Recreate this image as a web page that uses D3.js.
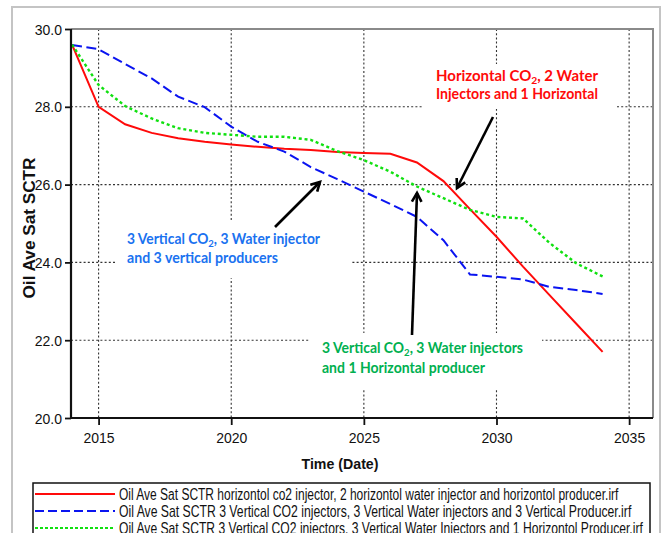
<!DOCTYPE html>
<html><head><meta charset="utf-8">
<script src="https://cdn.jsdelivr.net/npm/d3@7"></script>
<style>body{margin:0;background:#fff}svg{display:block}</style>
</head><body>
<svg id="c" width="664" height="533"></svg>
<script>
const years = d3.range(2014, 2035);
const redVals   = [29.6,28.0,27.55,27.33,27.19,27.1,27.03,26.97,26.92,26.89,26.84,26.81,26.79,26.57,26.09,25.37,24.66,23.89,23.16,22.43,21.7];
const blueVals  = [29.59,29.48,29.1,28.73,28.26,27.99,27.49,27.1,26.85,26.45,26.14,25.82,25.5,25.17,24.57,23.69,23.63,23.56,23.37,23.29,23.19];
const greenVals = [29.6,28.56,28.02,27.7,27.45,27.33,27.28,27.23,27.23,27.15,26.86,26.63,26.33,25.95,25.65,25.35,25.17,25.13,24.5,23.98,23.64];
const xTicks = [2015,2020,2025,2030,2035];
const yTicks = [20,22,24,26,28,30];
const legendLabels = [
  "Oil Ave Sat SCTR horizontol co2 injector, 2 horizontol water injector and horizontol producer.irf",
  "Oil Ave Sat SCTR 3 Vertical CO2 injectors, 3 Vertical Water injectors and 3 Vertical Producer.irf",
  "Oil Ave Sat SCTR 3 Vertical CO2 injectors, 3 Vertical Water Injectors and 1 Horizontol Producer.irf"
];
const seriesColors = ["#ff0a0a","#0a14f0","#10e010"];
const seriesDash = [null,"10,4.5","3,2.8"];

const svg = d3.select("#c");
const L=71, R=653, T=29, B=418;
const x = d3.scaleLinear().domain([2013.96,2035.9]).range([L,R]);
const y = d3.scaleLinear().domain([20,30]).range([B,T]);

// outer frame
svg.append("path").attr("d","M12,533V7H660V533").attr("fill","none").attr("stroke","#c4c4c4").attr("stroke-width",2);

// gridlines
const grid = svg.append("g").attr("stroke","#333").attr("stroke-width",1.1).attr("stroke-dasharray","2,2.2");
xTicks.forEach(t=>grid.append("line").attr("x1",x(t)).attr("x2",x(t)).attr("y1",T).attr("y2",B));
yTicks.filter(t=>t>20&&t<30).forEach(t=>grid.append("line").attr("x1",L).attr("x2",R).attr("y1",y(t)).attr("y2",y(t)));

// white backgrounds behind annotations
const bg = svg.append("g").attr("fill","#fff");
bg.append("rect").attr("x",423).attr("y",64).attr("width",194).attr("height",45);
bg.append("rect").attr("x",115).attr("y",221).attr("width",237).attr("height",57);
bg.append("rect").attr("x",310).attr("y",333).attr("width",232).attr("height",56);

// top/right border
svg.append("path").attr("d",`M${L},${T}H${R}V${B}`).attr("fill","none").attr("stroke","#8a8a8a").attr("stroke-width",2);

// series
const line = d3.line().x((d,i)=>x(years[i])).y(d=>y(d));
[redVals,blueVals,greenVals].forEach((vals,k)=>{
  svg.append("path").datum(vals).attr("d",line).attr("fill","none")
    .attr("stroke",seriesColors[k]).attr("stroke-width",k==2?2.4:2)
    .attr("stroke-dasharray",seriesDash[k]);
});

// axes
const yAxis = d3.axisLeft(y).tickValues(yTicks).tickSize(6).tickSizeOuter(0).tickFormat(d3.format(".1f"));
const gy = svg.append("g").attr("transform",`translate(${L},0)`).call(yAxis);
const xAxis = d3.axisBottom(x).tickValues(xTicks).tickSize(7).tickSizeOuter(0).tickFormat(d3.format("d"));
const gx = svg.append("g").attr("transform",`translate(0,${B})`).call(xAxis);
[gx,gy].forEach(g=>{
  g.select(".domain").attr("stroke","#111").attr("stroke-width",2.2);
  g.selectAll(".tick line").attr("stroke","#111").attr("stroke-width",1.8);
  g.selectAll(".tick text").attr("font-family","'Liberation Sans',Arial,sans-serif").attr("font-size",14).attr("fill","#111");
});
gy.selectAll(".tick text").attr("x",-9).attr("dy","0.36em");
gx.selectAll(".tick text").attr("y",15).attr("dy","0.71em");
gy.select(".domain").attr("d",`M0,${B+1}V${T}`);
gx.select(".domain").attr("d",`M${L-1},0H${R}`);

// axis titles
svg.append("text").attr("transform","translate(34.5,228) rotate(-90)").attr("text-anchor","middle")
  .attr("font-family","'Liberation Sans',Arial,sans-serif").attr("font-weight","bold").attr("font-size",16)
  .attr("fill","#111").attr("textLength",141).attr("lengthAdjust","spacingAndGlyphs").text("Oil Ave Sat SCTR");
svg.append("text").attr("x",340).attr("y",469).attr("text-anchor","middle")
  .attr("font-family","'Liberation Sans',Arial,sans-serif").attr("font-weight","bold").attr("font-size",15)
  .attr("fill","#111").attr("textLength",77).attr("lengthAdjust","spacingAndGlyphs").text("Time (Date)");

// annotations
function annot(parts, xx, yy, color, len){
  const t = svg.append("text").attr("x",xx).attr("y",yy).attr("fill",color)
    .attr("font-family","Lato,'Open Sans',sans-serif").attr("font-weight","bold").attr("font-size",14.5)
    .attr("textLength",len).attr("lengthAdjust","spacingAndGlyphs");
  parts.forEach(p=>{
    if (p.sub) t.append("tspan").attr("font-size",10).attr("dy",2.5).text(p.sub);
    else t.append("tspan").attr("dy",p.back?-2.5:0).text(p.t);
  });
}
annot([{t:"Horizontal CO"},{sub:"2"},{t:", 2 Water",back:true}],436,81,"#ff0a0a",162);
annot([{t:"Injectors and 1 Horizontal"}],436,99,"#ff0a0a",162);
annot([{t:"3 Vertical CO"},{sub:"2"},{t:", 3 Water injector",back:true}],127,244,"#1a72f0",193);
annot([{t:"and 3 vertical producers"}],127,263,"#1a72f0",151);
annot([{t:"3 Vertical CO"},{sub:"2"},{t:", 3 Water injectors",back:true}],322,353,"#00b050",201);
annot([{t:"and 1 Horizontal producer"}],322,373,"#00b050",163);

// arrows
function arrow(x1,y1,x2,y2){
  const a = Math.atan2(y2-y1,x2-x1), h=10, s=0.5;
  svg.append("line").attr("x1",x1).attr("y1",y1).attr("x2",x2).attr("y2",y2).attr("stroke","#000").attr("stroke-width",2.6);
  const p1=[x2-h*Math.cos(a-s), y2-h*Math.sin(a-s)], p2=[x2-h*Math.cos(a+s), y2-h*Math.sin(a+s)];
  svg.append("path").attr("d",`M${p1}L${x2},${y2}L${p2}`).attr("fill","none").attr("stroke","#000").attr("stroke-width",2.6).attr("stroke-linejoin","miter");
}
arrow(493,117,457,188);
arrow(275,227,320,182);
arrow(412,335,417,193);

// legend
svg.append("rect").attr("x",33).attr("y",483).attr("width",617).attr("height",70).attr("fill","#fff").attr("stroke","#111").attr("stroke-width",1.5);
const ly=[494,511,528];
const lw=[500,513,524];
legendLabels.forEach((lab,k)=>{
  svg.append("line").attr("x1",35).attr("x2",115).attr("y1",ly[k]).attr("y2",ly[k])
    .attr("stroke",seriesColors[k]).attr("stroke-width",2).attr("stroke-dasharray",seriesDash[k]?(k==1?"9,4":"3,2"):null);
  const g = svg.append("g");
  const t = g.append("text").attr("x",0).attr("y",0).attr("dy","0.36em")
    .attr("font-family","'Liberation Sans',Arial,sans-serif").attr("font-size",16).attr("fill","#111").text(lab);
  const w = t.node().getComputedTextLength();
  g.attr("transform",`translate(119,${ly[k]}) scale(${lw[k]/w},1)`);
});
</script>
</body></html>
